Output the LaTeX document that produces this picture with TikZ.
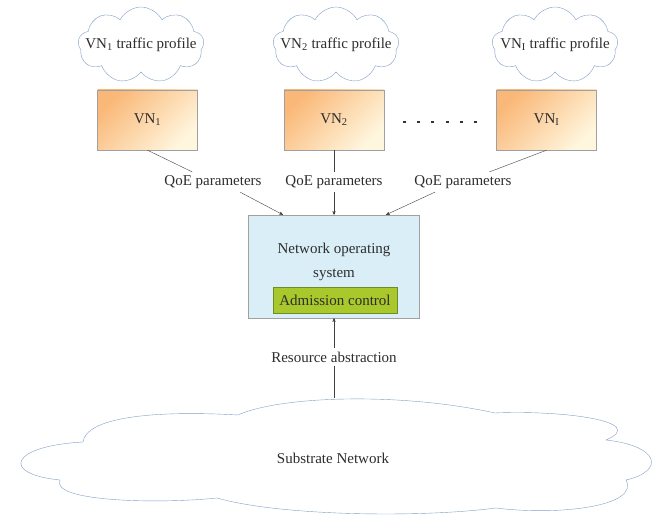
\documentclass[tikz,border=0pt]{standalone}
\usepackage{fontspec}
\setmainfont{Liberation Serif}
\usepackage{tikz}
\usetikzlibrary{calc}
\usetikzlibrary{arrows}
\usetikzlibrary{shapes.symbols}
\definecolor{cloudline}{RGB}{128,158,200}
\definecolor{vnorange}{RGB}{250,184,120}
\definecolor{vnlight}{RGB}{255,246,222}
\definecolor{boxline}{RGB}{160,160,160}
\definecolor{nosblue}{RGB}{218,238,248}
\definecolor{acgreen}{RGB}{168,200,44}
\definecolor{acline}{RGB}{110,140,40}
\definecolor{txt}{RGB}{45,45,45}
\tikzset{
  smallcloud/.style={cloud, cloud puffs=9, cloud puff arc=125, cloud ignores aspect,
    draw=cloudline, fill=white, minimum width=126pt, minimum height=76pt, inner sep=0pt},
  vnbox/.style={rectangle, draw=boxline, top color=vnorange, bottom color=vnlight,
    shading angle=45, minimum width=100pt, minimum height=60pt},
  link/.style={draw=black!75, thin},
  arr/.style={link, ->, >=stealth'}
}

\begin{document}
\begin{tikzpicture}[x=1pt, y=1pt, font=\fontsize{15}{18}\selectfont,
  every node/.style={text=txt}]
\useasboundingbox (0,0) rectangle (653,516);

% traffic profiles
\node[smallcloud, label=center:{VN\textsubscript{1} traffic profile}] (prof1) at (141,471) {};
\node[smallcloud, label=center:{VN\textsubscript{2} traffic profile}] (prof2) at (336,471) {};
\node[smallcloud, label=center:{VN\textsubscript{I} traffic profile}] (prof3) at (555,471) {};

% virtual networks
\node[vnbox] (vn1) at (147.5,396) {VN\textsubscript{1}};
\node[vnbox] (vn2) at (334,396) {VN\textsubscript{2}};
\node[vnbox] (vn3) at (546.5,396) {VN\textsubscript{I}};
\foreach \x in {0,...,5}
  \fill[black!80] (403+\x*14.2,395) rectangle ++(3,-2);

\node (qoe1) at (213,334) {QoE parameters};
\node (qoe2) at (334,334) {QoE parameters};
\node (qoe3) at (463,334) {QoE parameters};

% network operating system
\node[draw=boxline, fill=nosblue, minimum width=171pt, minimum height=103pt] (nos) at (334,249.5) {};
\node[align=center, font=\fontsize{15}{24}\selectfont] (nostxt) at (334,254) {Network operating\\system};
\node[draw=acline, fill=acgreen, minimum width=124pt, minimum height=26pt, inner sep=0pt] (adm) at (335,216) {Admission control};

% substrate
\draw[cloudline] (83,74) .. controls (86,98) and (150,106) .. (238,101)
  .. controls (280,120) and (400,124) .. (495,103)
  .. controls (560,106) and (650,95) .. (606,76)
  .. controls (660,70) and (665,45) .. (626,36)
  .. controls (640,10) and (560,0) .. (496,8)
  .. controls (420,-2) and (280,0) .. (217,18)
  .. controls (160,12) and (50,14) .. (60,36)
  .. controls (0,42) and (10,70) .. (83,74) -- cycle;
\node (sub) at (333,58) {Substrate Network};
\node (res) at (334,159) {Resource abstraction};
\coordinate (subtop) at (334,118);

\draw[link] (vn1.south) -- (qoe1);
\draw[link] (vn2.south) -- (qoe2);
\draw[link] (vn3.south) -- (qoe3);
\draw[arr] ([xshift=27pt]qoe1.south) -- ([xshift=-51pt]nos.north);
\draw[arr] (qoe2.south) -- (nos.north);
\draw[arr] ([xshift=-28pt]qoe3.south) -- ([xshift=52pt]nos.north);
\draw[arr] (res.north) -- (nos.south);
\draw[link] (res.south) -- (subtop);
\end{tikzpicture}
\end{document}
